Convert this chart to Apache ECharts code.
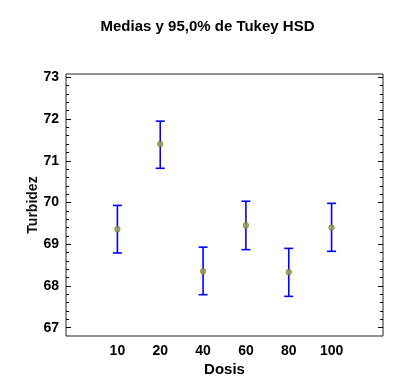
<!DOCTYPE html>
<html>
<head>
<meta charset="utf-8">
<style>html,body{margin:0;padding:0;background:#fff}#c{width:415px;height:386px}</style>
<script src="https://cdn.jsdelivr.net/npm/echarts@6/dist/echarts.min.js"></script>
</head>
<body>
<div id="c"></div>
<script>
var categories = ['10', '20', '40', '60', '80', '100'];
var means = [69.36, 71.40, 68.35, 69.45, 68.33, 69.40];
var upper = [69.93, 71.95, 68.93, 70.03, 68.90, 69.98];
var lower = [68.79, 70.82, 67.79, 68.87, 67.75, 68.83];
var yTicks = [67, 68, 69, 70, 71, 72, 73];

var minorTicks = [];
for (var t = 67; t <= 73.001; t += 0.2) minorTicks.push(Math.round(t * 10) / 10);
var catIdx = categories.map(function (c, i) { return i; });

var font = 'Liberation Sans, Arial, sans-serif';
var yMin = 66.8, yMax = 73.08;

function yAx(pos, major, labels) {
  return {
    type: 'value', min: yMin, max: yMax, position: pos,
    axisLine: { show: false, onZero: false },
    splitLine: { show: false },
    axisTick: { show: true, inside: true, length: major ? 5 : 3,
      customValues: major ? yTicks : minorTicks,
      lineStyle: { color: '#000', width: 1 } },
    axisLabel: labels ? { show: true, customValues: yTicks, margin: 7,
      fontSize: 14, fontWeight: 'bold', color: '#000', fontFamily: font } : { show: false },
    name: labels ? 'Turbidez' : '',
    nameLocation: 'middle', nameGap: 26, nameMoveOverlap: false,
    nameTextStyle: { fontSize: 14, fontWeight: 'bold', color: '#111', fontFamily: font }
  };
}

var chart = echarts.init(document.getElementById('c'), null, { renderer: 'canvas' });
chart.setOption({
  animation: false,
  title: { text: 'Medias y 95,0% de Tukey HSD', left: 'center', top: 14,
    textStyle: { fontSize: 15, fontWeight: 'bold', color: '#000', fontFamily: font } },
  grid: { left: 66, right: 32, top: 74, bottom: 50, show: true,
    borderColor: '#222', borderWidth: 1, backgroundColor: 'transparent' },
  xAxis: {
    type: 'value', min: -1.2, max: 6.2,
    axisLine: { show: false, onZero: false }, splitLine: { show: false },
    axisTick: { show: false },
    axisLabel: { show: true, customValues: catIdx, margin: 8,
      formatter: function (v) { return categories[Math.round(v)]; },
      fontSize: 14, fontWeight: 'bold', color: '#000', fontFamily: font },
    name: 'Dosis', nameLocation: 'middle', nameGap: 26, nameMoveOverlap: false,
    nameTextStyle: { fontSize: 15, fontWeight: 'bold', color: '#000', fontFamily: font }
  },
  yAxis: [yAx('left', true, true), yAx('left', false, false), yAx('right', true, false), yAx('right', false, false)],
  series: [
    {
      type: 'custom',
      data: catIdx.map(function (i) { return [i, lower[i], upper[i]]; }),
      renderItem: function (params, api) {
        var x = api.value(0);
        var lo = api.coord([x, api.value(1)]);
        var hi = api.coord([x, api.value(2)]);
        var hw = 4.5;
        var st = { stroke: '#0000ff', lineWidth: 1.6 };
        return { type: 'group', children: [
          { type: 'line', shape: { x1: hi[0], y1: hi[1], x2: lo[0], y2: lo[1] }, style: st },
          { type: 'line', shape: { x1: hi[0] - hw, y1: hi[1], x2: hi[0] + hw, y2: hi[1] }, style: st },
          { type: 'line', shape: { x1: lo[0] - hw, y1: lo[1], x2: lo[0] + hw, y2: lo[1] }, style: st }
        ]};
      },
      z: 2
    },
    {
      type: 'scatter',
      data: catIdx.map(function (i) { return [i, means[i]]; }),
      symbol: 'circle', symbolSize: 5,
      itemStyle: { color: '#a0a090', borderColor: '#8a8a00', borderWidth: 1.2 },
      z: 3
    }
  ]
});
</script>
</body>
</html>
